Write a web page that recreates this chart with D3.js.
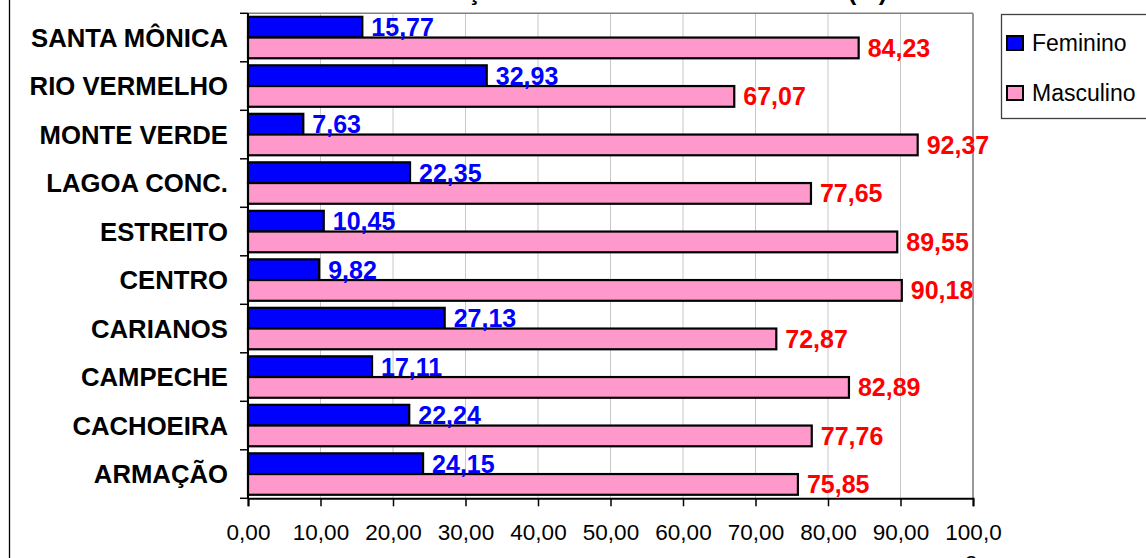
<!DOCTYPE html>
<html><head><meta charset="utf-8">
<script src="https://cdn.jsdelivr.net/npm/d3@7"></script>
<style>body{margin:0;background:#fff}svg{display:block;font-family:Arial,"Liberation Sans",sans-serif}</style>
</head><body><svg id="c" width="1146" height="558"></svg>
<script>
const categories = ["SANTA MÔNICA","RIO VERMELHO","MONTE VERDE","LAGOA CONC.","ESTREITO","CENTRO","CARIANOS","CAMPECHE","CACHOEIRA","ARMAÇÃO"];
const feminino = [15.77,32.93,7.63,22.35,10.45,9.82,27.13,17.11,22.24,24.15];
const masculino = [84.23,67.07,92.37,77.65,89.55,90.18,72.87,82.89,77.76,75.85];
const seriesNames = ["Feminino","Masculino"];
const tickValues = [0,10,20,30,40,50,60,70,80,90,100];
const tickLabels = ["0,00","10,00","20,00","30,00","40,00","50,00","60,00","70,00","80,00","90,00","100,0"];
const titleText = "DISTRIBUIÇÃO POR SEXO NOS BAIRROS (%)";

const svg = d3.select("#c");
const L=248,R=973,T=13.3,B=498.3;
const x = d3.scaleLinear().domain([0,100]).range([L,R]);
const y = d3.scaleBand().domain(categories).range([T,B]).paddingInner(0).paddingOuter(0);
const sub = d3.scaleBand().domain(seriesNames).range([0,y.bandwidth()]).paddingInner(0).paddingOuter(0.17);
const colors = {Feminino:"#0000FF",Masculino:"#FF99CC"};
const labelColors = {Feminino:"#0000FF",Masculino:"#FF0000"};
const fmt = v => d3.format(".2f")(v).replace(".",",");

// outer chart border (left edge visible)
svg.append("line").attr("x1",9.5).attr("x2",9.5).attr("y1",0).attr("y2",558).attr("stroke","#000").attr("stroke-width",1.3);

// title (cut off at top, as in the reference)
svg.append("text").attr("x",887).attr("y",0).attr("text-anchor","end")
  .attr("font-weight","bold").attr("font-size",25).attr("fill","#000").text(titleText);

// gridlines
svg.append("g").selectAll("line").data(tickValues.slice(1)).join("line")
  .attr("x1",d=>x(d)).attr("x2",d=>x(d)).attr("y1",T).attr("y2",B)
  .attr("stroke","#c8c8c8").attr("stroke-width",1);
// plot frame top/right
svg.append("line").attr("x1",L).attr("x2",R).attr("y1",T).attr("y2",T).attr("stroke","#808080").attr("stroke-width",1.5);
svg.append("line").attr("x1",R).attr("x2",R).attr("y1",T).attr("y2",B).attr("stroke","#808080").attr("stroke-width",1.5);

const rows = categories.map((c,i)=>({c, vals:[{s:"Feminino",v:feminino[i]},{s:"Masculino",v:masculino[i]}]}));
const g = svg.append("g").selectAll("g").data(rows).join("g").attr("transform",d=>`translate(0,${y(d.c)})`);
g.selectAll("rect").data(d=>d.vals).join("rect")
  .attr("x",x(0)).attr("y",d=>sub(d.s)).attr("width",d=>x(d.v)-x(0)).attr("height",sub.bandwidth())
  .attr("fill",d=>colors[d.s]).attr("stroke","#000").attr("stroke-width",2.2);
g.selectAll("text").data(d=>d.vals).join("text")
  .attr("x",d=>x(d.v)+9).attr("y",d=>sub(d.s)+sub.bandwidth()-1.5)
  .attr("font-weight","bold").attr("font-size",25).attr("fill",d=>labelColors[d.s]).text(d=>fmt(d.v));

// axes
const xa = svg.append("g").attr("transform",`translate(0,${B})`)
  .call(d3.axisBottom(x).tickValues(tickValues).tickFormat((d,i)=>tickLabels[i]).tickSize(8).tickPadding(18));
xa.select(".domain").attr("stroke","#000").attr("stroke-width",2);
xa.selectAll(".tick line").attr("stroke","#000").attr("stroke-width",1.5);
xa.selectAll("text").attr("font-size",22.5).attr("fill","#000").attr("font-family",'Arial,"Liberation Sans",sans-serif');

const yBounds = d3.scaleLinear().domain([0,categories.length]).range([T,B]);
const ya = svg.append("g").attr("transform",`translate(${L},0)`);
ya.append("line").attr("x1",0).attr("x2",0).attr("y1",T).attr("y2",B).attr("stroke","#000").attr("stroke-width",2);
ya.selectAll("line.t").data(d3.range(categories.length+1)).join("line").attr("class","t")
  .attr("x1",-8).attr("x2",0).attr("y1",d=>yBounds(d)).attr("y2",d=>yBounds(d)).attr("stroke","#000").attr("stroke-width",1.5);
ya.selectAll("text").data(categories).join("text")
  .attr("x",-20).attr("y",d=>y(d)+y.bandwidth()/2).attr("dy","0.36em").attr("text-anchor","end")
  .attr("font-weight","bold").attr("font-size",25.7).attr("fill","#000").text(d=>d);

// cut-off text at bottom right (as in the reference)
svg.append("text").attr("x",971).attr("y",571).attr("text-anchor","middle").attr("font-size",22).attr("fill","#000").text("2");

// legend
const lg = svg.append("g");
lg.append("rect").attr("x",1001.5).attr("y",14.5).attr("width",160).attr("height",104).attr("fill","#fff").attr("stroke","#404040").attr("stroke-width",1.3);
const li = lg.selectAll("g").data(seriesNames).join("g").attr("transform",(d,i)=>`translate(1007,${36+i*50})`);
li.append("rect").attr("width",16).attr("height",14).attr("fill",d=>colors[d]).attr("stroke","#000").attr("stroke-width",2);
li.append("text").attr("x",25).attr("y",14.5).attr("font-size",23).attr("fill","#000").text(d=>d);
</script></body></html>
